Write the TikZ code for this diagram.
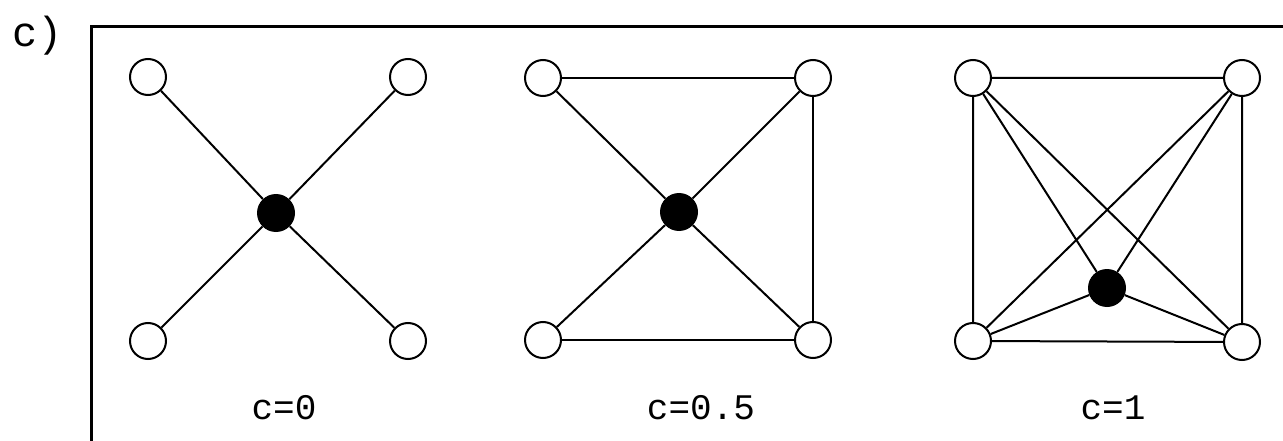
\documentclass[tikz,border=0pt]{standalone}
\usepackage{fontspec}
\setmonofont{Liberation Mono}
\begin{document}
\begin{tikzpicture}[x=1pt,y=-1pt,
  vtx/.style={draw=black,circle,line width=2pt,minimum size=36pt,inner sep=0pt,fill=white},
  hub/.style={circle,fill=black,minimum size=38pt,inner sep=0pt},
  edge/.style={line width=2pt,black},
  lbl/.style={font=\ttfamily\fontsize{36}{36}\selectfont,inner sep=0pt}]
\useasboundingbox (0,0) rectangle (1283,441);
\coordinate (fb) at (91,441);
\coordinate (fc) at (91,27);
\coordinate (fr) at (1283,27);
\draw[line width=3pt] (fb) -- (fc) -- (fr);
\node[lbl,font=\ttfamily\fontsize{42}{42}\selectfont] (tag) at (38,36) {c)};
% panel 1
\node[vtx] (a1) at (148,77) {};
\node[vtx] (a2) at (408,77) {};
\node[vtx] (a3) at (148,341) {};
\node[vtx] (a4) at (408,341) {};
\node[hub] (ac) at (276,213) {};
\draw[edge] (a1) -- (ac) (a2) -- (ac) (a3) -- (ac) (a4) -- (ac);
\node[lbl] (la) at (284,408) {c=0};
% panel 2
\node[vtx] (b1) at (543,78) {};
\node[vtx] (b2) at (813,78) {};
\node[vtx] (b3) at (543,340) {};
\node[vtx] (b4) at (813,340) {};
\node[hub] (bc) at (679,212) {};
\draw[edge] (b1) -- (bc) (b2) -- (bc) (b3) -- (bc) (b4) -- (bc);
\draw[edge] (b1) -- (b2) (b2) -- (b4) (b3) -- (b4);
\node[lbl] (lb) at (701,408) {c=0.5};
% panel 3
\node[vtx] (c1) at (973,78) {};
\node[vtx] (c2) at (1242,78) {};
\node[vtx] (c3) at (973,341) {};
\node[vtx] (c4) at (1242,342) {};
\node[hub] (cc) at (1107,288) {};
\draw[edge] (c1) -- (cc) (c2) -- (cc) (c3) -- (cc) (c4) -- (cc);
\draw[edge] (c1) -- (c2) (c2) -- (c4) (c3) -- (c4) (c1) -- (c3) (c1) -- (c4) (c2) -- (c3);
\node[lbl] (lc) at (1113,408) {c=1};
\end{tikzpicture}
\end{document}
